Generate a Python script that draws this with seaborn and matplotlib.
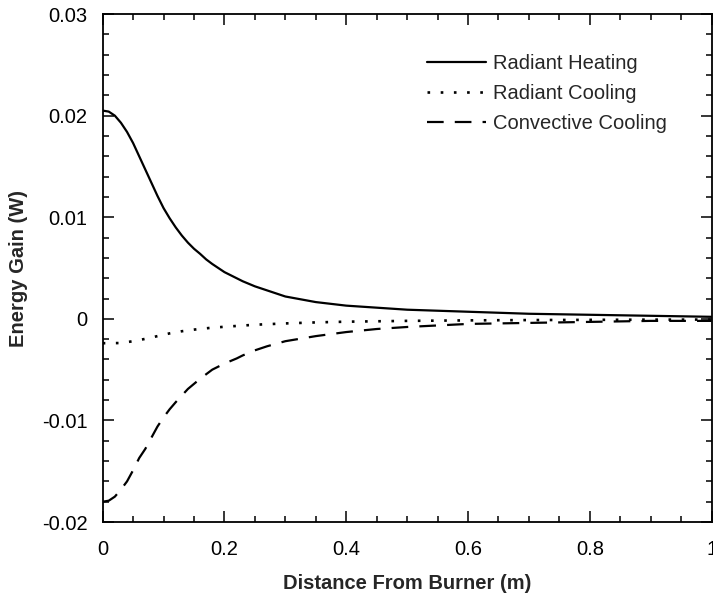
#!/usr/bin/env python3
# -*- coding: utf-8 -*-
"""
버너로부터의 거리에 따른 에너지 이득 (복사 가열 / 복사 냉각 / 대류 냉각)
"""

import pandas as pd
import matplotlib
matplotlib.use('Agg')
import matplotlib.pyplot as plt
import matplotlib.ticker as mticker
import seaborn as sns

# 데이터
heating_x = [0.0, 0.01, 0.02, 0.03, 0.04, 0.05, 0.06, 0.07, 0.08, 0.09, 0.10,
             0.11, 0.12, 0.13, 0.14, 0.15, 0.16, 0.17, 0.18, 0.19, 0.20, 0.21,
             0.22, 0.23, 0.25, 0.27, 0.30, 0.35, 0.40, 0.45, 0.50, 0.60, 0.70,
             0.80, 0.90, 1.00]
heating_y = [0.0205, 0.0204, 0.0200, 0.0193, 0.0184, 0.0173, 0.0160, 0.0147,
             0.0134, 0.0121, 0.0109, 0.0099, 0.0090, 0.0082, 0.0075, 0.0069,
             0.0064, 0.00585, 0.0054, 0.0050, 0.0046, 0.0043, 0.0040, 0.0037,
             0.0032, 0.0028, 0.0022, 0.00165, 0.0013, 0.0011, 0.0009, 0.0007,
             0.0005, 0.0004, 0.0003, 0.0002]

rad_cool_x = [0.0, 0.03, 0.05, 0.07, 0.09, 0.11, 0.13, 0.15, 0.175, 0.20,
              0.25, 0.30, 0.35, 0.40, 0.50, 0.60, 0.70, 0.80, 0.90, 1.00]
rad_cool_y = [-0.0024, -0.00238, -0.0022, -0.00197, -0.0017, -0.00143,
              -0.00122, -0.00106, -0.0009, -0.00078, -0.00058, -0.00045,
              -0.00035, -0.00028, -0.0002, -0.00015, -0.00012, -0.0001,
              -0.00008, -0.00007]

conv_x = [0.0, 0.01, 0.02, 0.03, 0.04, 0.05, 0.06, 0.07, 0.08, 0.09, 0.10,
          0.11, 0.12, 0.13, 0.14, 0.15, 0.16, 0.17, 0.18, 0.19, 0.20, 0.21,
          0.22, 0.23, 0.25, 0.27, 0.30, 0.35, 0.40, 0.45, 0.50, 0.60, 0.70,
          0.80, 0.90, 1.00]
conv_y = [-0.0180, -0.0179, -0.0175, -0.0168, -0.0160, -0.0149, -0.0137,
          -0.0128, -0.0117, -0.0106, -0.0097, -0.0089, -0.0082, -0.00755,
          -0.0069, -0.0064, -0.0059, -0.00545, -0.0050, -0.0047, -0.0044,
          -0.00415, -0.0039, -0.0036, -0.0031, -0.0027, -0.0022, -0.0017,
          -0.0013, -0.0010, -0.0008, -0.0005, -0.0004, -0.0003, -0.0002,
          -0.0002]

series_names = ['Radiant Heating', 'Radiant Cooling', 'Convective Cooling']

x_ticks = [0, 0.2, 0.4, 0.6, 0.8, 1.0]
y_ticks = [-0.02, -0.01, 0, 0.01, 0.02, 0.03]

# 스타일 설정
sns.set_style('ticks')
plt.rcParams['font.family'] = ['Liberation Sans', 'DejaVu Sans']
plt.rcParams['axes.unicode_minus'] = False

fs = 14.5

fig = plt.figure(figsize=(7.13, 5.99), dpi=100)
ax = fig.add_axes([0.144, 0.1285, 0.854, 0.848])

styles = [
    (heating_x, heating_y, '-', 1.6),
    (rad_cool_x, rad_cool_y, (0, (1.0, 4.0)), 1.9),
    (conv_x, conv_y, (0, (7.5, 5.0)), 1.6),
]
for name, (xs, ys, ls, lw) in zip(series_names, styles):
    df = pd.DataFrame({'x': xs, 'y': ys})
    sns.lineplot(data=df, x='x', y='y', ax=ax, color='black',
                 linewidth=lw, linestyle=ls, label=name)

ax.set_xlim(0, 1)
ax.set_ylim(-0.02, 0.03)
ax.set_xticks(x_ticks)
ax.set_yticks(y_ticks)
ax.xaxis.set_minor_locator(mticker.MultipleLocator(0.05))
ax.yaxis.set_minor_locator(mticker.MultipleLocator(0.002))
ax.xaxis.set_major_formatter(mticker.FuncFormatter(lambda v, p: f'{round(v, 4):g}'))
ax.yaxis.set_major_formatter(mticker.FuncFormatter(lambda v, p: f'{round(v, 4):g}'))

ax.tick_params(which='both', direction='in', top=True, right=True,
               width=1.1, colors='black')
ax.tick_params(which='major', length=8, labelsize=fs)
ax.tick_params(axis='x', which='major', pad=13)
ax.tick_params(axis='y', which='major', pad=11)
ax.tick_params(which='minor', length=4.3)
for sp in ax.spines.values():
    sp.set_linewidth(1.3)
    sp.set_color('black')

ax.set_xlabel('Distance From Burner (m)', fontsize=fs, fontweight='bold', labelpad=11)
ax.set_ylabel('Energy Gain (W)', fontsize=fs, fontweight='bold', labelpad=10)

ax.legend(loc='upper left', bbox_to_anchor=(0.533, 0.921), frameon=False,
          fontsize=fs, handlelength=2.9, handletextpad=0.35,
          labelspacing=0.55, borderpad=0, borderaxespad=0)

fig.savefig('out.png', dpi=100)
